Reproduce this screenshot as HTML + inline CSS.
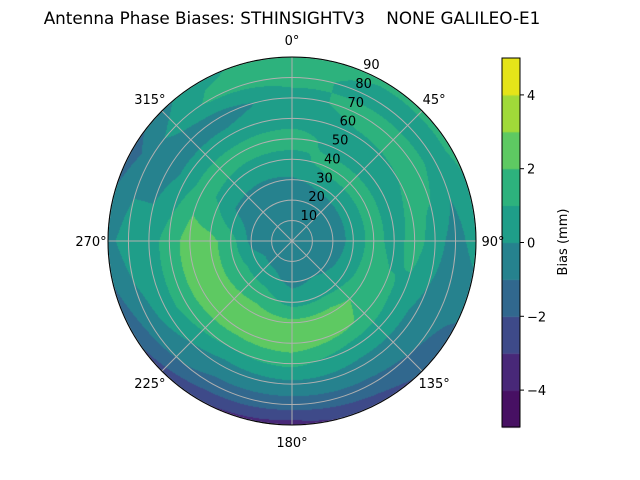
<!DOCTYPE html>
<html><head><meta charset="utf-8"><style>
html,body{margin:0;padding:0;background:#fff;}
#root{position:relative;width:640px;height:480px;overflow:hidden;font-family:"DejaVu Sans","Liberation Sans",sans-serif;}
.t{position:absolute;font-size:13px;color:#000;white-space:pre;line-height:1;}
</style></head><body>
<div id="root">
<div class="t" style="left:0;width:584px;text-align:center;top:10px;font-size:16.8px;">Antenna Phase Biases: STHINSIGHTV3    NONE GALILEO-E1</div>
<canvas id="cv" width="640" height="480" style="position:absolute;left:0;top:0"></canvas>
<svg id="sv" width="640" height="480" style="position:absolute;left:0;top:0"></svg>
</div>
<script>
// ---- data ----
const levels = [-5,-4,-3,-2,-1,0,1,2,3,4,5];
const bandColors = ["#471063","#482878","#3e4a89","#31688e","#26828e","#1f9e89","#2db27d","#5ec962","#a0da39","#e5e419"];
const azimuths = [0,30,60,90,120,150,180,210,240,270,300,330];
const radii = [0,10,20,30,40,50,60,70,80,90];
const bias00 = [-0.5,-0.5,-0.5,-0.1,0.6,1.5,0.5,0.5,1.5,1.5];
const bias30 = [-0.5,-0.5,-0.5,0.2,1.5,0.5,0.8,1.5,0.5,1.2];
const bias60 = [-0.5,-0.5,-0.5,0.3,1.5,0.5,1.0,1.5,0.5,1.2];
const bias90 = [-0.5,-0.5,-0.5,0.3,1.5,0.5,1.5,0.5,-0.5,0.5];
const bias120 = [-0.5,-0.5,-0.3,0.5,1.6,1.4,0.5,-0.3,-0.8,-1.2];
const bias150 = [-0.5,-0.5,0.0,0.8,2.4,2.2,0.5,-0.3,-1.3,-2.5];
const bias180 = [-0.5,-0.5,-0.3,0.6,2.3,2.6,1.3,-0.3,-1.5,-3.5];
const bias210 = [-0.5,-0.5,0.3,1.5,2.5,2.5,1.0,-0.5,-1.3,-3.0];
const bias240 = [-0.5,-0.5,0.5,1.5,2.3,2.5,1.5,0.5,-0.5,-1.8];
const bias270 = [-0.5,-0.5,-0.3,1.5,2.3,2.5,1.5,0.5,0.5,-0.3];
const bias300 = [-0.5,-0.5,-0.5,-0.2,0.8,1.5,0.3,-0.5,-0.5,-1.5];
const bias330 = [-0.5,-0.5,-0.5,-0.2,0.6,1.5,0.3,-0.5,1.2,0.8];
const angleLabels = ["0°","45°","90°","135°","180°","225°","270°","315°"];
const radialTicks = [10,20,30,40,50,60,70,80,90];
const cbTicks = [-4,-2,0,2,4];

const grid=[bias00,bias30,bias60,bias90,bias120,bias150,bias180,bias210,bias240,bias270,bias300,bias330];
const CX=292, CY=241, R=184, RMAX=90;
const rScale=v=>v/RMAX*R;
function pol(az,v){const a=az*Math.PI/180;return [CX+rScale(v)*Math.sin(a), CY-rScale(v)*Math.cos(a)];}
function sample(az,v){
  const n=azimuths.length, step=360/n;
  let fa=((az%360)+360)%360/step; const i0=Math.floor(fa)%n, i1=(i0+1)%n, ta=fa-Math.floor(fa);
  let fr=v/10; let j0=Math.min(Math.floor(fr),radii.length-2); const tr=Math.min(fr-j0,1);
  const a=grid[i0][j0]*(1-tr)+grid[i0][j0+1]*tr;
  const b=grid[i1][j0]*(1-tr)+grid[i1][j0+1]*tr;
  return a*(1-ta)+b*ta;
}
function band(val){for(let k=0;k<bandColors.length;k++){if(val<levels[k+1])return k;}return bandColors.length-1;}
const cv=document.getElementById('cv'),ctx=cv.getContext('2d');
const img=ctx.createImageData(640,480);
const rgb=bandColors.map(c=>[parseInt(c.substr(1,2),16),parseInt(c.substr(3,2),16),parseInt(c.substr(5,2),16)]);
for(let y=0;y<480;y++)for(let x=0;x<640;x++){
  const dx=x+0.5-CX, dy=y+0.5-CY, d=Math.hypot(dx,dy);
  if(d>R)continue;
  const az=Math.atan2(dx,-dy)*180/Math.PI;
  const c=rgb[band(sample(az,d/R*RMAX))];
  const p=(y*640+x)*4; img.data[p]=c[0];img.data[p+1]=c[1];img.data[p+2]=c[2];img.data[p+3]=255;
}
ctx.putImageData(img,0,0);
// colorbar
const CBX=502,CBW=18,CBT=58,CBB=427;
const cbY=v=>CBB-(v-levels[0])/(levels[levels.length-1]-levels[0])*(CBB-CBT);
for(let k=0;k<bandColors.length;k++){
  ctx.fillStyle=bandColors[k];
  const y1=cbY(levels[k+1]),y0=cbY(levels[k]);
  ctx.fillRect(CBX,y1,CBW,y0-y1+0.5);
}
const NS='http://www.w3.org/2000/svg', sv=document.getElementById('sv');
function mk(tag,attrs,name,parent){const e=document.createElementNS(NS,tag);for(const k in attrs)e.setAttribute(k,attrs[k]);


(parent||sv).appendChild(e);return e;}
radialTicks.forEach(v=>{mk('circle',{cx:CX,cy:CY,r:rScale(v),fill:'none',stroke:'#b0b0b0','stroke-width':1},'ring-gridline-'+v);});
angleLabels.forEach((lab,i)=>{const [x,y]=pol(i*45,RMAX);mk('line',{x1:CX,y1:CY,x2:x,y2:y,stroke:'#b0b0b0','stroke-width':1},'spoke-gridline-'+i*45);});
mk('circle',{cx:CX,cy:CY,r:R,fill:'none',stroke:'#000','stroke-width':1},'polar-frame');
angleLabels.forEach((lab,i)=>{
  const a=i*45*Math.PI/180, rr=R+17;
  const x=CX+rr*Math.sin(a), y=CY-rr*Math.cos(a);
  const t=mk('text',{x:x,y:y+5,'font-size':13,'text-anchor':'middle','font-family':'DejaVu Sans, Liberation Sans, sans-serif'},'angle-label-'+i*45);
  t.textContent=lab;
});
radialTicks.forEach(v=>{
  const [x,y]=pol(22.5,v);
  const t=mk('text',{x:x+9,y:y-2,'font-size':13,'text-anchor':'middle','font-family':'DejaVu Sans, Liberation Sans, sans-serif'},'radial-tick-'+v);
  t.textContent=v;
});
mk('rect',{x:CBX,y:CBT,width:CBW,height:CBB-CBT,fill:'none',stroke:'#000','stroke-width':1},'colorbar-frame');
cbTicks.forEach(v=>{
  const y=cbY(v);
  mk('line',{x1:CBX+CBW,y1:y,x2:CBX+CBW+4,y2:y,stroke:'#000'},'colorbar-tick-'+v);
  const t=mk('text',{x:CBX+CBW+7,y:y+5,'font-size':13,'font-family':'DejaVu Sans, Liberation Sans, sans-serif'},'colorbar-label-'+v);
  t.textContent=v<0?'\u2212'+(-v):String(v);
});
const tt=mk('text',{x:567,y:242,'font-size':13,'text-anchor':'middle',transform:'rotate(-90 567 242)','font-family':'DejaVu Sans, Liberation Sans, sans-serif'},'colorbar-title');
tt.textContent='Bias (mm)';
</script>
</body></html>
